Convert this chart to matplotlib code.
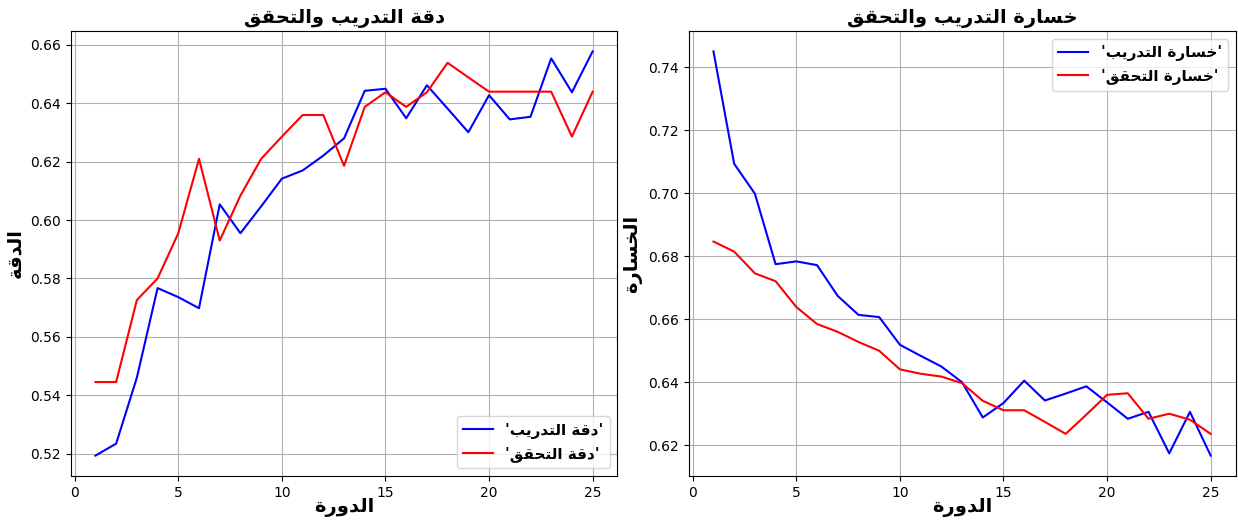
import unicodedata
import numpy as np
import matplotlib
matplotlib.use("Agg")
import matplotlib.pyplot as plt

# epochs and metrics
epochs = list(range(1, 26))
train_acc = [0.5193, 0.5234, 0.5460, 0.5767, 0.5736, 0.5698, 0.6054, 0.5955, 0.6047, 0.6142,
             0.6170, 0.6221, 0.6280, 0.6443, 0.6450, 0.6349, 0.6462, 0.6382, 0.6301, 0.6428,
             0.6345, 0.6354, 0.6554, 0.6438, 0.6578]
val_acc = [0.5445, 0.5445, 0.5726, 0.5800, 0.5955, 0.6210, 0.5930, 0.6084, 0.6210, 0.6286,
           0.6360, 0.6360, 0.6186, 0.6388, 0.6438, 0.6388, 0.6438, 0.6539, 0.6489, 0.6440,
           0.6440, 0.6440, 0.6440, 0.6286, 0.6440]
train_loss = [0.7451, 0.7094, 0.6999, 0.6775, 0.6784, 0.6772, 0.6674, 0.6614, 0.6607, 0.6519,
              0.6484, 0.6450, 0.6400, 0.6288, 0.6334, 0.6405, 0.6342, 0.6364, 0.6387, 0.6336,
              0.6284, 0.6306, 0.6174, 0.6306, 0.6167]
val_loss = [0.6847, 0.6815, 0.6746, 0.6721, 0.6639, 0.6585, 0.6560, 0.6528, 0.6500, 0.6441,
            0.6427, 0.6418, 0.6397, 0.6341, 0.6311, 0.6311, 0.6274, 0.6236, 0.6297, 0.6360,
            0.6365, 0.6284, 0.6300, 0.6281, 0.6236]

# arabic presentation forms, built from the unicode table
forms = {}
for cp in range(0xFE70, 0xFEFD):
    d = unicodedata.decomposition(chr(cp)).split()
    if len(d) == 2 and d[0] in ("<isolated>", "<final>", "<initial>", "<medial>"):
        forms.setdefault(chr(int(d[1], 16)), {})[d[0][1:-1]] = chr(cp)


def ar(text):
    """shape arabic letters and reverse for left-to-right drawing"""
    out = []
    for i, ch in enumerate(text):
        f = forms.get(ch)
        if not f:
            out.append(ch)
            continue
        prev = text[i - 1] if i > 0 else ""
        nxt = text[i + 1] if i + 1 < len(text) else ""
        join_prev = prev in forms and "initial" in forms[prev]
        join_next = "initial" in f and nxt in forms
        if join_prev and join_next:
            key = "medial"
        elif join_prev:
            key = "final"
        elif join_next:
            key = "initial"
        else:
            key = "isolated"
        out.append(f.get(key, ch))
    return "".join(reversed(out))


plt.rcParams["font.family"] = ["DejaVu Sans"]

fig, (ax1, ax2) = plt.subplots(1, 2, figsize=(12.38, 5.2), dpi=100)

ax1.plot(epochs, train_acc, color="blue", label=ar("'دقة التدريب'"))
ax1.plot(epochs, val_acc, color="red", label=ar("'دقة التحقق'"))
ax1.set_title(ar("دقة التدريب والتحقق"), fontsize=14, fontweight="bold")
ax1.set_xlabel(ar("الدورة"), fontsize=14, fontweight="bold", labelpad=-1)
ax1.set_ylabel(ar("الدقة"), fontsize=14, fontweight="bold")
ax1.legend(loc="lower right", prop={"weight": "bold", "size": 11})
ax1.grid(True)

ax2.plot(epochs, train_loss, color="blue", label=ar("'خسارة التدريب'"))
ax2.plot(epochs, val_loss, color="red", label=ar("'خسارة التحقق'"))
ax2.set_title(ar("خسارة التدريب والتحقق"), fontsize=14, fontweight="bold")
ax2.set_xlabel(ar("الدورة"), fontsize=14, fontweight="bold", labelpad=-1)
ax2.set_ylabel(ar("الخسارة"), fontsize=14, fontweight="bold")
ax2.legend(loc="upper right", prop={"weight": "bold", "size": 11})
ax2.grid(True)

plt.subplots_adjust(left=0.057, right=0.998, top=0.94, bottom=0.085, wspace=0.13)
plt.savefig("out.png", dpi=100)
